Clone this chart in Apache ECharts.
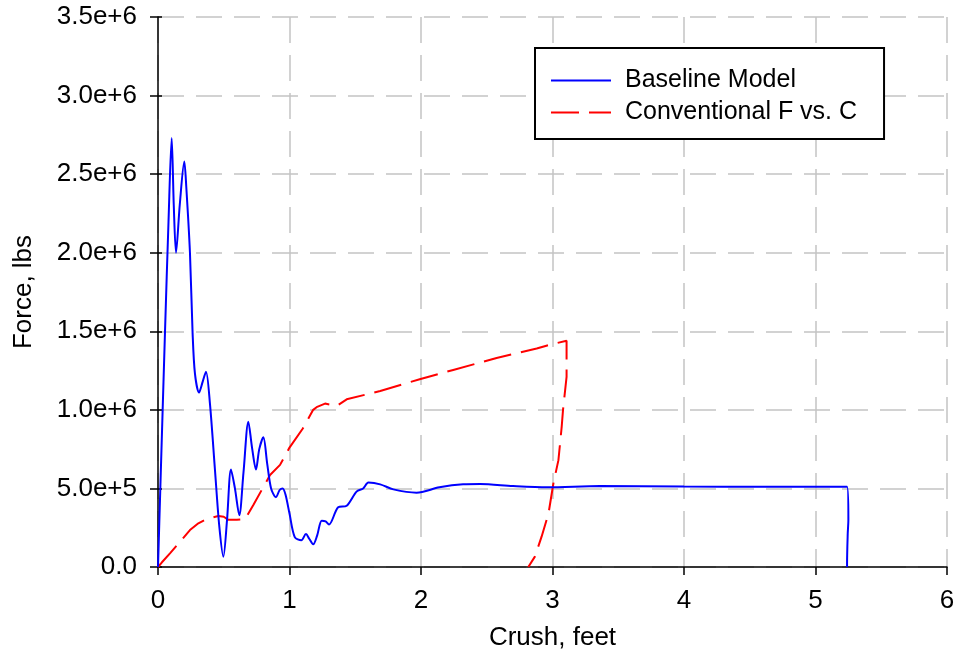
<!DOCTYPE html>
<html>
<head>
<meta charset="utf-8">
<script src="https://cdn.jsdelivr.net/npm/echarts@6/dist/echarts.min.js"></script>
<style>html,body{margin:0;padding:0;background:#fff;}#c{width:958px;height:657px;}</style>
</head>
<body>
<div id="c"></div>
<script>
// Baseline Model (crush in feet, force in lbs)
var baselineX = [0, 0.018, 0.053, 0.08, 0.104, 0.12, 0.137, 0.166, 0.2, 0.215, 0.243, 0.263, 0.281, 0.312, 0.34, 0.365, 0.395, 0.433, 0.466, 0.497, 0.525, 0.555, 0.585, 0.618, 0.65, 0.687, 0.715, 0.745, 0.77, 0.801, 0.83, 0.86, 0.897, 0.925, 0.948, 0.97, 1.0, 1.04, 1.09, 1.125, 1.15, 1.18, 1.21, 1.245, 1.275, 1.30, 1.37, 1.435, 1.51, 1.56, 1.60, 1.69, 1.79, 1.966, 2.14, 2.32, 2.45, 2.70, 2.96, 3.36, 4.0, 4.6, 5.24, 5.25, 5.245, 5.24, 5.24];
var baselineY = [0, 0.51e6, 1.49e6, 2.2e6, 2.73e6, 2.3e6, 2.0e6, 2.31e6, 2.58e6, 2.42e6, 2.0e6, 1.49e6, 1.23e6, 1.11e6, 1.18e6, 1.243e6, 1.04e6, 0.62e6, 0.26e6, 0.066e6, 0.3e6, 0.62e6, 0.5e6, 0.33e6, 0.6e6, 0.925e6, 0.76e6, 0.62e6, 0.75e6, 0.825e6, 0.66e6, 0.5e6, 0.444e6, 0.49e6, 0.5e6, 0.46e6, 0.34e6, 0.19e6, 0.17e6, 0.21e6, 0.18e6, 0.144e6, 0.2e6, 0.295e6, 0.29e6, 0.27e6, 0.38e6, 0.39e6, 0.48e6, 0.5e6, 0.537e6, 0.526e6, 0.494e6, 0.473e6, 0.507e6, 0.526e6, 0.528e6, 0.515e6, 0.507e6, 0.515e6, 0.512e6, 0.511e6, 0.511e6, 0.3e6, 0.21e6, 0.02e6, 0];
// Conventional F vs. C
var convX = [0, 0.03, 0.091, 0.167, 0.243, 0.307, 0.37, 0.459, 0.5, 0.535, 0.6, 0.662, 0.725, 0.852, 0.928, 1.0, 1.1, 1.18, 1.206, 1.27, 1.36, 1.435, 1.69, 1.99, 2.245, 2.575, 2.88, 2.96, 3.107, 3.107, 3.08, 3.07, 3.045, 3.007, 2.97, 2.917, 2.866, 2.816];
var convY = [0, 0.03e6, 0.087e6, 0.16e6, 0.235e6, 0.278e6, 0.305e6, 0.325e6, 0.32e6, 0.30e6, 0.3e6, 0.304e6, 0.395e6, 0.585e6, 0.65e6, 0.76e6, 0.88e6, 1.0e6, 1.017e6, 1.04e6, 1.025e6, 1.067e6, 1.12e6, 1.195e6, 1.254e6, 1.33e6, 1.39e6, 1.41e6, 1.44e6, 1.21e6, 1.0e6, 0.893e6, 0.68e6, 0.533e6, 0.342e6, 0.193e6, 0.066e6, 0];
var xTicks = [0, 1, 2, 3, 4, 5, 6];
var yTicks = [0, 0.5e6, 1.0e6, 1.5e6, 2.0e6, 2.5e6, 3.0e6, 3.5e6];
var seriesNames = ['Baseline Model', 'Conventional F vs. C'];

function pairs(xs, ys) { return xs.map(function (x, i) { return [x, ys[i]]; }); }
var FONT = '"Liberation Sans", Arial, sans-serif';
var chart = echarts.init(document.getElementById('c'), null, { renderer: 'canvas' });
var gridDash = { color: '#c4c4c4', width: 1.5, type: [26, 12] };
chart.setOption({
  animation: false,
  backgroundColor: '#ffffff',
  textStyle: { fontFamily: FONT, color: '#000' },
  grid: { left: 158, right: 11, top: 17, bottom: 90, containLabel: false },
  legend: {
    orient: 'vertical', left: 535, top: 48,
    backgroundColor: '#ffffff', borderColor: '#000', borderWidth: 2, borderRadius: 0,
    padding: [20, 27, 14, 15], itemGap: 7, itemWidth: 60, itemHeight: 14,
    itemStyle: { opacity: 0, borderWidth: 0 },
    textStyle: { fontFamily: FONT, fontSize: 25, color: '#000', padding: [0, 0, 0, 9] },
    data: seriesNames
  },
  xAxis: {
    type: 'value', min: xTicks[0], max: xTicks[xTicks.length - 1], interval: 1,
    name: 'Crush, feet', nameLocation: 'middle', nameGap: 58,
    nameTextStyle: { fontFamily: FONT, fontSize: 26, color: '#000' },
    axisLine: { show: true, onZero: false, lineStyle: { color: '#000', width: 1.5 } },
    axisTick: { show: true, inside: false, length: 8, lineStyle: { color: '#000', width: 1.5 } },
    axisLabel: { fontFamily: FONT, fontSize: 26, color: '#000', margin: 21 },
    splitLine: { show: true, lineStyle: gridDash }
  },
  yAxis: [{
    type: 'value', min: yTicks[0], max: yTicks[yTicks.length - 1], interval: 0.5e6,
    name: 'Force, lbs', nameLocation: 'middle', nameGap: 121, nameRotate: 90,
    nameTextStyle: { fontFamily: FONT, fontSize: 26, color: '#000' },
    axisLine: { show: true, onZero: false, lineStyle: { color: '#000', width: 1.5 } },
    axisTick: { show: true, inside: false, length: 8, lineStyle: { color: '#000', width: 1.5 } },
    axisLabel: { fontFamily: FONT, fontSize: 26, color: '#000', margin: 21,
      formatter: function (v) { return v === 0 ? '0.0' : v.toExponential(1); } },
    splitLine: { show: true, lineStyle: gridDash }
  }, {
    type: 'value', min: yTicks[0], max: yTicks[yTicks.length - 1], interval: 0.5e6, position: 'left',
    axisLine: { show: false }, axisLabel: { show: false }, splitLine: { show: false },
    axisTick: { show: true, inside: true, length: 4, lineStyle: { color: '#000', width: 1.5 } }
  }],
  series: [{
    name: seriesNames[0], type: 'line', data: pairs(baselineX, baselineY),
    symbol: 'none', showSymbol: false, z: 3, smooth: 0.3,
    lineStyle: { color: '#0000ff', width: 2 }, itemStyle: { color: '#0000ff' }
  }, {
    name: seriesNames[1], type: 'line', data: pairs(convX, convY),
    symbol: 'none', showSymbol: false, z: 2,
    lineStyle: { color: '#ff0000', width: 2, type: [28, 10] }, itemStyle: { color: '#ff0000' }
  }]
});
</script>
</body>
</html>
